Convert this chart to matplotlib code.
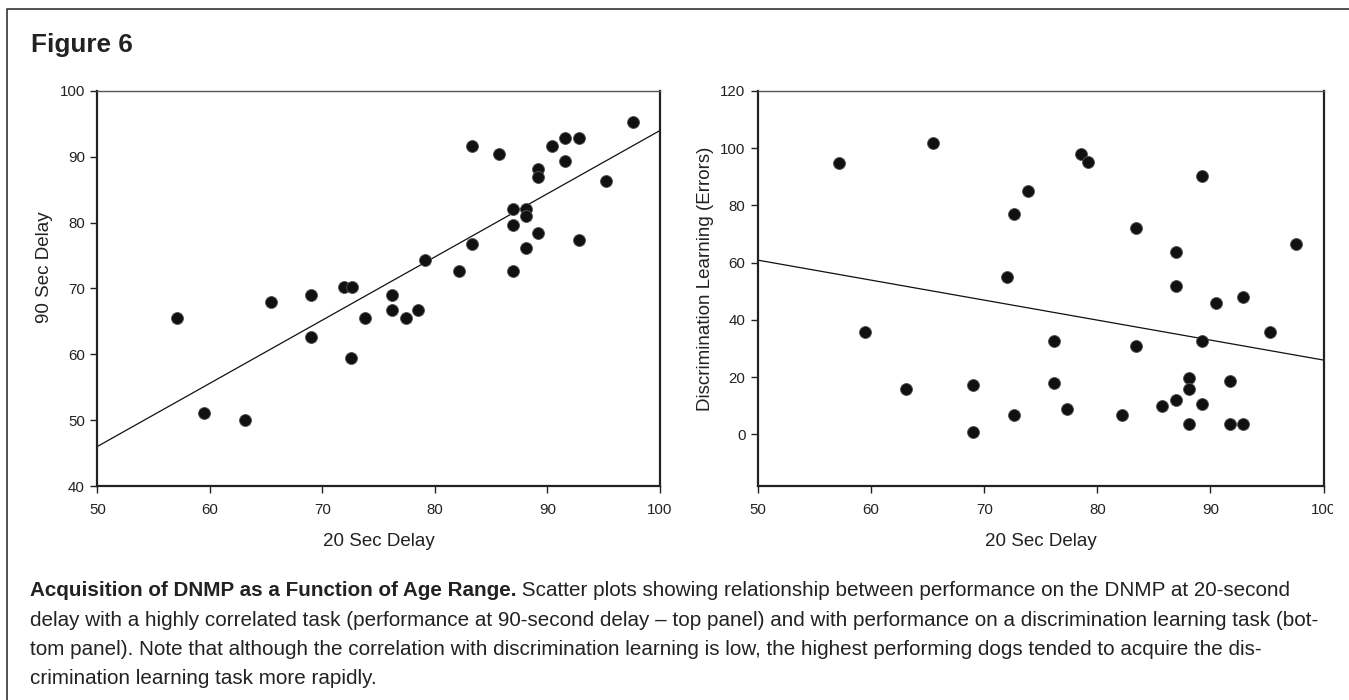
import matplotlib
matplotlib.use("Agg")
import numpy as np
import matplotlib.pyplot as plt
from matplotlib.lines import Line2D
from matplotlib.transforms import Bbox, TransformedBbox

plt.rcParams['font.family'] = ['Liberation Sans', 'DejaVu Sans']

# ---------------------------------
# data
# ---------------------------------
# left panel: 20 sec delay vs 90 sec delay
delay20_left = [57.1, 65.4, 69.0, 69.0, 71.95, 72.6, 73.8, 76.2, 76.2, 77.4, 78.5, 79.1,
                82.1, 83.3, 83.3, 85.7, 86.9, 86.9, 86.9, 88.05, 88.05, 88.05, 89.2, 89.2,
                89.2, 90.4, 91.6, 91.6, 92.8, 92.8, 95.2, 97.6, 72.55, 59.5, 63.1]
delay90 = [65.5, 67.9, 69.0, 62.6, 70.2, 70.2, 65.5, 69.0, 66.7, 65.5, 66.7, 74.4,
           72.6, 91.6, 76.8, 90.5, 82.1, 79.7, 72.6, 82.1, 81.0, 76.2, 88.2, 86.9,
           78.5, 91.6, 92.9, 89.3, 92.9, 77.3, 86.3, 95.3, 59.5, 51.1, 50.0]

# right panel: 20 sec delay vs discrimination learning errors
delay20_right = [57.2, 65.5, 78.6, 79.2, 89.3, 73.85, 72.6, 83.4, 86.95, 97.6, 72.0, 86.95,
                 90.5, 92.9, 59.5, 95.3, 76.2, 83.4, 89.3, 88.1, 91.7, 63.1, 69.05, 76.2,
                 88.1, 86.95, 85.75, 89.3, 77.35, 72.6, 82.15, 88.1, 91.7, 92.9, 69.05]
errors = [94.9, 101.8, 97.9, 95.3, 90.3, 84.9, 77.0, 72.0, 63.8, 66.4, 54.9, 51.7,
          45.9, 47.9, 35.8, 35.8, 32.8, 30.8, 32.8, 19.9, 18.8, 15.8, 17.3, 17.9,
          15.8, 11.9, 9.9, 10.8, 8.8, 6.9, 6.9, 3.7, 3.7, 3.7, 0.7]

# fitted lines as drawn in the figure (slope, intercept)
fit_left = (0.96, -2.0)
fit_right = (-0.698, 95.8)

x_ticks = [50, 60, 70, 80, 90, 100]
left_y_ticks = [40, 50, 60, 70, 80, 90, 100]
right_y_ticks = [0, 20, 40, 60, 80, 100, 120]

caption_bold = "Acquisition of DNMP as a Function of Age Range."
caption_lines = [
    " Scatter plots showing relationship between performance on the DNMP at 20-second",
    "delay with a highly correlated task (performance at 90-second delay \u2013 top panel) and with performance on a discrimination learning task (bot-",
    "tom panel). Note that although the correlation with discrimination learning is low, the highest performing dogs tended to acquire the dis-",
    "crimination learning task more rapidly.",
]

W, H = 1349, 700
fig = plt.figure(figsize=(W / 100, H / 100), dpi=100)


def px(x, y):
    return x / W, 1 - y / H


def style_axes(ax):
    for side in ["left", "bottom", "right"]:
        ax.spines[side].set_linewidth(1.6)
        ax.spines[side].set_color("#222222")
    ax.spines["top"].set_linewidth(1.0)
    ax.spines["top"].set_color("#555555")
    ax.tick_params(direction="out", length=5, width=1, colors="#222222",
                   labelsize=10.8, top=False, right=False)
    ax.tick_params(axis="x", pad=7)
    ax.tick_params(axis="y", pad=4)


def draw_panel(ax, x, y, fit, ylim, yticks, ylabel, ylabel_y):
    ax.scatter(x, y, s=74, color="#111111", edgecolors="#555555", linewidths=0.6, zorder=3)
    xs = np.array([50, 100])
    ax.plot(xs, fit[0] * xs + fit[1], color="#111111", linewidth=0.9, zorder=2)
    ax.set_xlim(50, 100)
    ax.set_ylim(*ylim)
    ax.set_xticks(x_ticks)
    ax.set_yticks(yticks)
    ax.set_xlabel("20 Sec Delay", fontsize=13.5, color="#222222", labelpad=12)
    ax.set_ylabel(ylabel, fontsize=13.5, color="#222222")
    ax.yaxis.set_label_coords(-0.078, ylabel_y)
    style_axes(ax)


bottom = 1 - 486 / H
height = (486 - 91) / H
ax1 = fig.add_axes([97.3 / W, bottom, (660 - 97.3) / W, height])
ax2 = fig.add_axes([758 / W, bottom, (1323.5 - 758) / W, height])
draw_panel(ax1, delay20_left, delay90, fit_left, (40, 100), left_y_ticks,
           "90 Sec Delay", 0.555)
draw_panel(ax2, delay20_right, errors, fit_right, (-18, 120), right_y_ticks,
           "Discrimination Learning (Errors)", 0.525)

# the chart graphic is cut off just right of the last tick label
clip = TransformedBbox(Bbox([[0, 0], [1333 / W, 1]]), fig.transFigure)
for lab in ax2.get_xticklabels():
    lab.set_clip_on(True)
    lab.set_clip_box(clip)

# outer frame of the figure box
fig.add_artist(Line2D([6.5 / W, 6.5 / W, 1.0], [0.0, 1 - 9.3 / H, 1 - 9.3 / H],
                      transform=fig.transFigure, color="#333333", linewidth=1.2))

# title
fig.text(*px(31, 52), "Figure 6", fontsize=18.8, fontweight="bold",
         color="#222222", va="baseline", ha="left")

# caption, first line has a bold lead-in
cap_size = 14.9
t = fig.text(*px(30, 596), caption_bold, fontsize=cap_size, fontweight="bold",
             color="#222222", va="baseline", ha="left")
fig.canvas.draw()
ext = t.get_window_extent(renderer=fig.canvas.get_renderer())
fig.text(ext.x1 / W, 1 - 596 / H, caption_lines[0], fontsize=cap_size,
         color="#222222", va="baseline", ha="left")
for i, line in enumerate(caption_lines[1:]):
    fig.text(*px(30, 626 + 29 * i), line, fontsize=cap_size,
             color="#222222", va="baseline", ha="left")

fig.savefig("out.png", dpi=100)
